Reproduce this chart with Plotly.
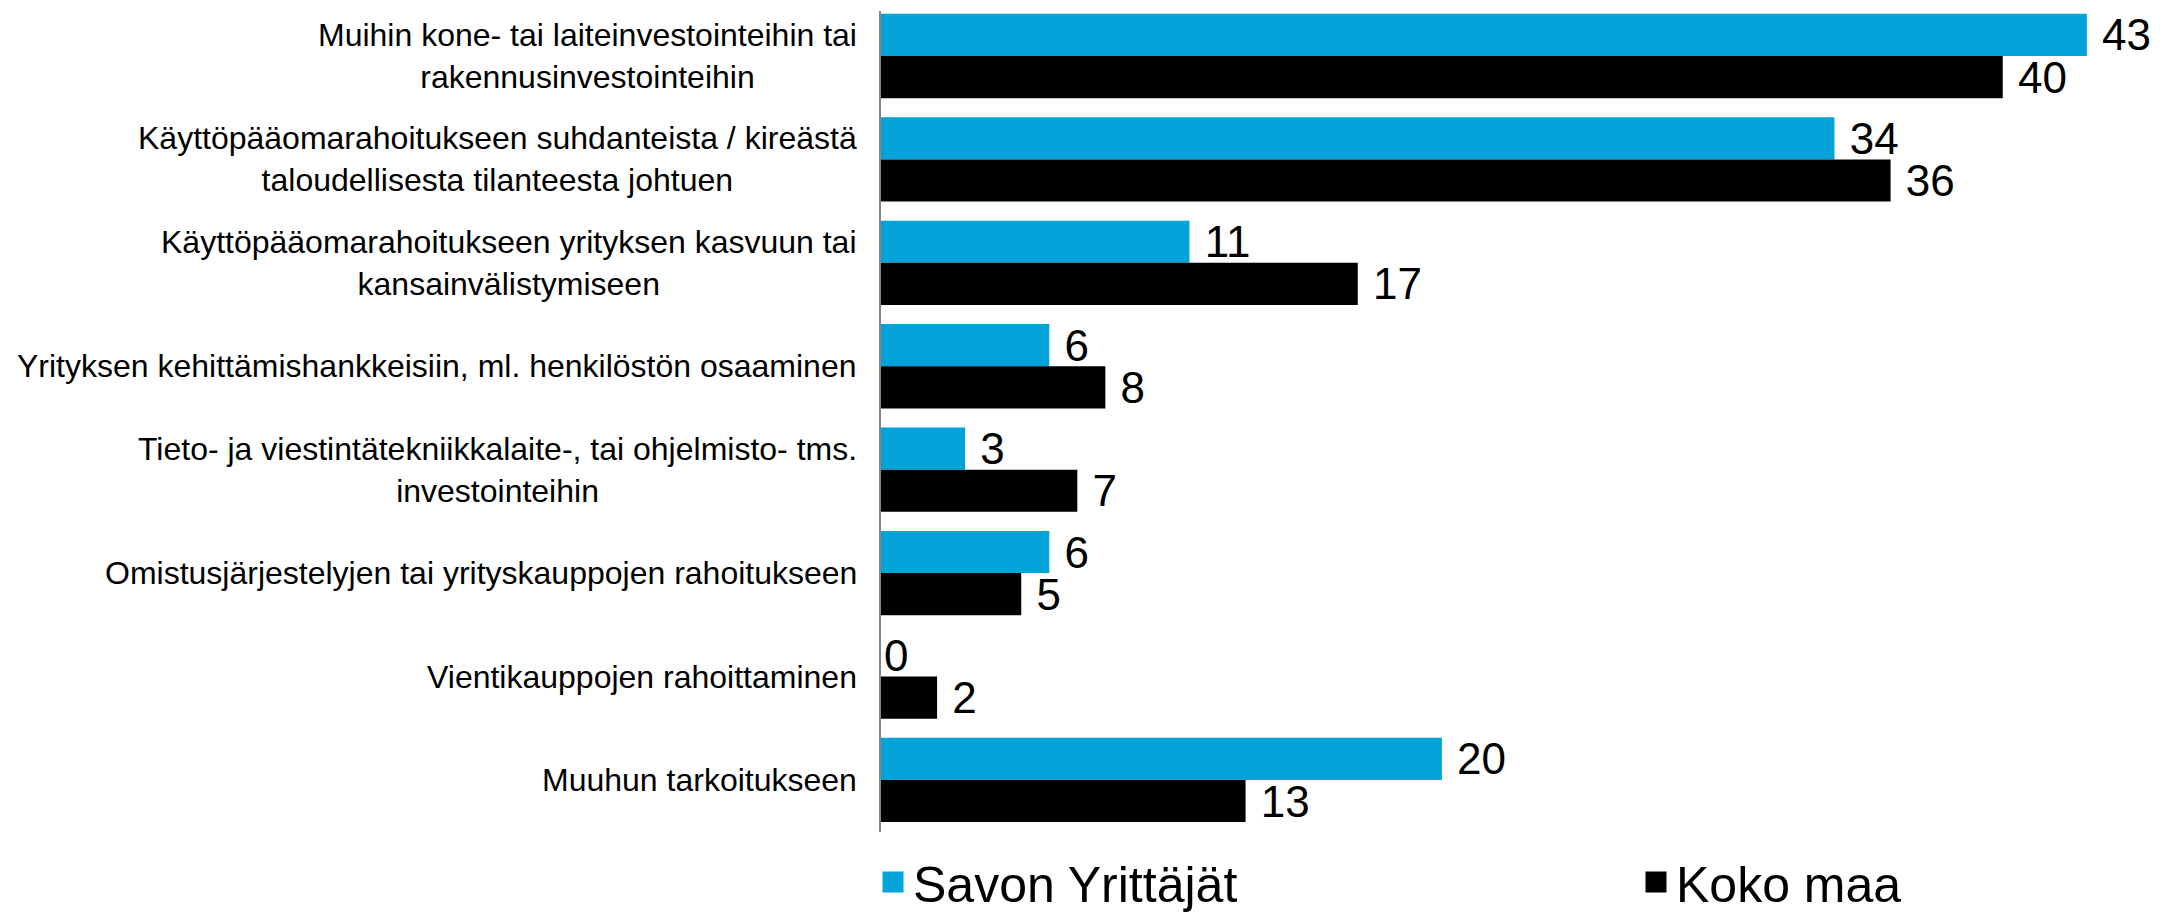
import plotly.graph_objects as go

categories = [
    "Muihin kone- tai laiteinvestointeihin tai<br>rakennusinvestointeihin",
    "Käyttöpääomarahoitukseen suhdanteista / kireästä<br>taloudellisesta tilanteesta johtuen",
    "Käyttöpääomarahoitukseen yrityksen kasvuun tai<br>kansainvälistymiseen",
    "Yrityksen kehittämishankkeisiin, ml. henkilöstön osaaminen",
    "Tieto- ja viestintätekniikkalaite-, tai ohjelmisto- tms.<br>investointeihin",
    "Omistusjärjestelyjen tai yrityskauppojen rahoitukseen",
    "Vientikauppojen rahoittaminen",
    "Muuhun tarkoitukseen",
]
series_names = ["Savon Yrittäjät", "Koko maa"]
savon = [43, 34, 11, 6, 3, 6, 0, 20]
koko = [40, 36, 17, 8, 7, 5, 2, 13]

colors = ["#02A3D9", "#000000"]
legend_widths = [718, 260]
FONT = "Liberation Sans, Arial, sans-serif"

# page body has an 8px default margin; figure sized to fit inside the window
W, H = 2151, 907

fig = go.Figure()
for name, vals, col in zip(series_names, [savon, koko], colors):
    fig.add_trace(go.Bar(
        y=categories, x=vals, name=name, orientation="h",
        marker=dict(color=col, line=dict(width=0)),
        text=[f" {v}" if v else f"{v}" for v in vals], textposition="outside",
        textfont=dict(family=FONT, size=44, color="#000000"),
        constraintext="none", cliponaxis=False,
        legendgroup=name, showlegend=False,
    ))

# legend entries with larger square swatches
for name, col, lw in zip(series_names, colors, legend_widths):
    fig.add_trace(go.Scatter(
        x=[None], y=[None], mode="markers", name=name,
        marker=dict(symbol="square", size=16, color=col,
                    line=dict(color=col, width=5)),
        legendgroup=name, showlegend=True, legendwidth=lw,
    ))

annotations = []
for c in categories:
    annotations.append(dict(
        xref="paper", x=0, yref="y", y=c, text=c, showarrow=False,
        xanchor="right", yanchor="middle", align="center", xshift=-22,
        font=dict(family=FONT, size=32, color="#000000"),
    ))

fig.update_layout(
    width=W, height=H,
    margin=dict(l=873, r=2, t=3, b=83, autoexpand=False),
    plot_bgcolor="white", paper_bgcolor="white",
    barmode="group", bargap=0.185, bargroupgap=0,
    font=dict(family=FONT, color="#000000"),
    annotations=annotations,
    legend=dict(
        orientation="h", xref="container", yref="container",
        x=865 / W, xanchor="left", y=(H - 874) / H, yanchor="middle",
        font=dict(family=FONT, size=50, color="#000000"),
        traceorder="normal", itemsizing="trace",
    ),
    xaxis=dict(range=[0, 45.5], showgrid=False, zeroline=False,
               showticklabels=False, showline=False, ticks=""),
    yaxis=dict(range=[7.503, -0.435], showgrid=False, zeroline=False,
               showticklabels=False, showline=True, linecolor="#868686",
               linewidth=1.5, ticks=""),
)

fig.write_html("out.html")
